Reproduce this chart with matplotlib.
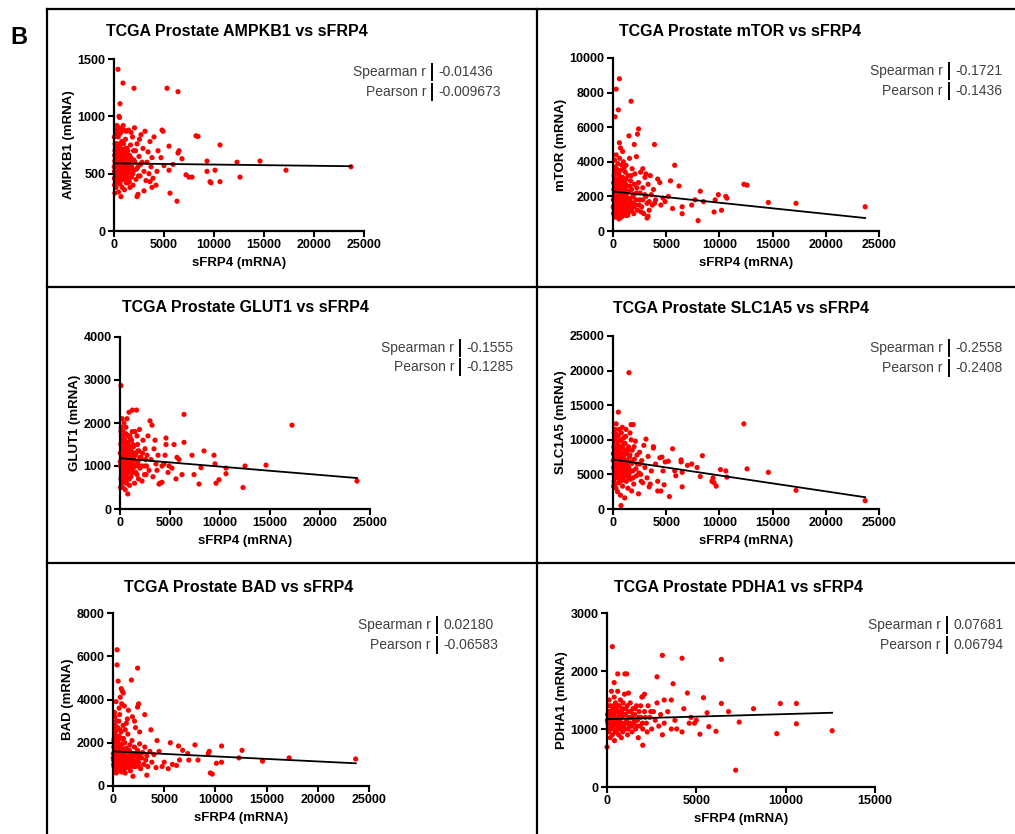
#!/usr/bin/env python3

import numpy as np
import matplotlib
matplotlib.use("Agg")
import matplotlib.pyplot as plt
from matplotlib.lines import Line2D

plt.rcParams["font.family"] = ["Liberation Sans", "DejaVu Sans"]

# =========================
# Data (sFRP4 mRNA vs gene mRNA)
# =========================
genes = ["AMPKB1", "mTOR", "GLUT1", "SLC1A5", "BAD", "PDHA1"]

spearman_r = ["-0.01436", "-0.1721", "-0.1555", "-0.2558", "0.02180", "0.07681"]
pearson_r = ["-0.009673", "-0.1436", "-0.1285", "-0.2408", "-0.06583", "0.06794"]

y_max = [1500, 10000, 4000, 25000, 8000, 3000]
y_step = [500, 2000, 1000, 5000, 2000, 1000]
x_max = [25000, 25000, 25000, 25000, 25000, 15000]
x_step = [5000, 5000, 5000, 5000, 5000, 5000]

# regression line value at the smallest and the largest sFRP4
fit_start = [590, 2280, 1180, 7150, 1600, 1170]
fit_end = [565, 750, 720, 1700, 1050, 1280]

ampkb1 = np.array([
    (50, 520), (80, 610), (100, 700), (120, 450), (150, 880), (180, 560), (200, 380), (220, 650),
    (250, 760), (280, 500), (300, 920), (320, 600), (350, 430), (380, 690), (400, 540), (420, 820),
    (450, 340), (480, 620), (500, 480), (520, 900), (550, 570), (580, 730), (600, 410), (620, 660),
    (650, 520), (680, 860), (700, 300), (720, 590), (750, 470), (780, 780), (800, 640), (820, 380),
    (850, 550), (880, 710), (900, 450), (920, 920), (950, 600), (980, 500), (1000, 680), (1050, 360),
    (1100, 560), (1150, 800), (1200, 470), (1250, 640), (1300, 720), (1350, 420), (1400, 580),
    (1450, 880), (1500, 510), (1550, 660), (1600, 380), (1650, 750), (1700, 550), (1750, 470),
    (1800, 620), (1850, 820), (1900, 400), (1950, 700), (2000, 530), (2050, 900), (2100, 600),
    (2200, 450), (2300, 760), (2400, 560), (2500, 650), (2600, 480), (2700, 840), (2800, 600),
    (2900, 720), (3000, 520), (3100, 870), (3200, 440), (3300, 600), (3400, 690), (3500, 500),
    (3600, 780), (3700, 560), (3800, 640), (3900, 460), (130, 580), (260, 420), (340, 760),
    (460, 700), (560, 640), (660, 440), (760, 560), (860, 620), (960, 760), (1060, 520), (1160, 680),
    (1260, 540), (1360, 640), (1460, 460), (30, 820), (60, 400), (90, 330), (110, 760), (40, 460),
    (70, 660), (20, 560), (160, 480), (190, 720), (230, 540), (270, 620), (310, 470), (360, 580),
    (390, 510), (430, 650), (470, 560), (510, 740), (530, 430), (570, 500), (610, 560), (640, 760),
    (690, 620), (710, 500), (770, 680), (810, 520), (870, 460), (890, 580), (940, 670), (1020, 610),
    (1080, 460), (1130, 580), (1180, 720), (1230, 420), (1280, 590), (1330, 500), (1380, 700),
    (1480, 600), (1530, 430), (1580, 540), (1680, 640), (1780, 560), (1880, 500), (1980, 620),
    (2150, 700), (2250, 540), (2450, 480), (2550, 800), (2650, 580), (170, 640), (210, 850),
    (330, 860), (590, 850), (790, 880), (1020, 880), (1220, 870), (1700, 860),
    (400, 1410), (900, 1290), (2000, 1245), (5300, 1245), (6400, 1215), (600, 1110),
    (500, 1000), (550, 990), (4900, 870), (4800, 880), (8200, 830), (8400, 825), (10600, 750),
    (5500, 740), (6500, 700), (6400, 680), (6800, 630), (9300, 610), (12300, 600), (14600, 610),
    (4000, 820), (4400, 700), (4700, 640), (5000, 570), (5500, 530), (7200, 490), (7500, 470),
    (7800, 470), (9300, 520), (9600, 430), (9700, 420), (10100, 530), (10600, 430), (12600, 470),
    (17200, 530), (23700, 560), (6300, 260), (5600, 330), (3000, 350), (2300, 300), (2400, 320),
    (3800, 380), (4200, 400), (5900, 580), (4300, 520), (3600, 430),
])

mtor = np.array([
    (50, 1000), (80, 2400), (100, 3200), (120, 1500), (150, 4100), (180, 2000), (200, 800),
    (220, 2800), (250, 3600), (280, 1200), (300, 4400), (320, 2200), (350, 1700), (380, 3000),
    (400, 900), (420, 2600), (450, 3900), (480, 1400), (500, 2100), (520, 3300), (550, 700),
    (580, 1900), (600, 2700), (620, 4200), (650, 1100), (680, 2400), (700, 3500), (720, 1600),
    (750, 2900), (780, 800), (800, 2000), (820, 3800), (850, 1300), (880, 2500), (900, 3100),
    (920, 1000), (950, 2200), (980, 4000), (1000, 1700), (1050, 2800), (1100, 1200), (1150, 3400),
    (1200, 2000), (1250, 900), (1300, 2600), (1350, 1500), (1400, 3200), (1450, 2300), (1500, 1100),
    (1550, 4200), (1600, 1800), (1650, 2900), (1700, 1300), (1750, 2400), (1800, 3600), (1850, 1600),
    (1900, 2100), (1950, 1000), (2000, 2700), (2050, 3300), (2100, 1500), (2200, 2200), (2300, 1200),
    (2400, 2800), (2500, 1800), (2600, 3400), (2700, 1400), (2800, 2500), (2900, 1000), (3000, 3100),
    (3100, 2000), (3200, 1600), (3300, 2700), (3400, 1200), (3500, 3200), (3600, 2100), (3700, 1500),
    (3800, 2400), (4000, 1800), (4200, 3000), (30, 1800), (60, 2800), (90, 1300), (140, 3700),
    (240, 2400), (340, 1000), (440, 2900), (540, 1800), (640, 3100), (740, 2200), (840, 1500),
    (940, 2600), (1040, 1900), (1140, 2400), (1240, 3000), (20, 1400), (160, 1100), (190, 2600),
    (230, 1800), (270, 2100), (310, 1300), (360, 2500), (390, 1900), (430, 1200), (470, 2300),
    (510, 1600), (530, 900), (570, 2500), (610, 1400), (640, 2000), (690, 1000), (710, 2600),
    (770, 1500), (810, 1200), (870, 2100), (890, 1700), (940, 900), (1020, 2300), (1080, 1500),
    (1130, 1000), (1180, 2700), (1230, 1700), (1280, 1300), (1330, 2200), (1380, 900), (1480, 1900),
    (1530, 1400), (1580, 2600), (1680, 1600), (1780, 1200), (1880, 2000), (1980, 1400), (2150, 1800),
    (2250, 2500), (2450, 1500), (2550, 2200), (2650, 1100), (170, 3000), (210, 3400), (330, 3600),
    (590, 3200), (790, 3000), (1020, 3600), (1220, 3800), (1700, 3200), (2800, 1800), (3000, 2100),
    (3400, 1700), (600, 8800), (300, 8200), (500, 7000),
    (1700, 7500), (200, 6600), (2400, 5900), (2300, 5600), (1500, 5500), (3900, 5000), (2000, 5000),
    (600, 5100), (700, 4800), (900, 4600), (5800, 3800), (2200, 4300), (5400, 2900), (6200, 2600),
    (8200, 2300), (9900, 2100), (10700, 1900), (10600, 2000), (12300, 2700), (12600, 2650),
    (14600, 1650), (17200, 1600), (23700, 1400), (6500, 1000), (6500, 1400), (8000, 600),
    (9500, 1100), (10200, 1200), (7400, 1500), (7700, 1800), (8500, 1700), (9600, 1800), (4700, 1900),
    (4500, 1500), (3900, 1600), (3200, 750), (3300, 850), (5600, 1300), (5200, 2000), (4400, 2800),
    (4900, 1700), (2800, 3600), (3100, 3300),
])

glut1 = np.array([
    (50, 1000), (80, 1500), (100, 700), (120, 1900), (150, 1200), (180, 600), (200, 1700), (220, 900),
    (250, 1400), (280, 500), (300, 1100), (320, 1800), (350, 800), (380, 1300), (400, 2000), (420, 650),
    (450, 1000), (480, 1600), (500, 1200), (520, 450), (550, 1450), (580, 850), (600, 1750), (620, 1050),
    (650, 600), (680, 1350), (700, 2100), (720, 900), (750, 1250), (780, 350), (800, 1550), (820, 1000),
    (850, 700), (880, 1400), (900, 2250), (920, 1150), (950, 550), (980, 1700), (1000, 950), (1050, 1300),
    (1100, 750), (1150, 1600), (1200, 1050), (1250, 2300), (1300, 850), (1350, 1450), (1400, 1150),
    (1450, 600), (1500, 1800), (1550, 1000), (1600, 1300), (1650, 2300), (1700, 800), (1750, 1500),
    (1800, 1100), (1850, 700), (1900, 1350), (1950, 1850), (2000, 950), (2100, 1200), (2200, 650),
    (2300, 1600), (2400, 1000), (2500, 1400), (2600, 800), (2700, 1250), (2800, 1700), (2900, 900),
    (3000, 2050), (3100, 1150), (3200, 1950), (3300, 750), (3400, 1400), (3600, 1050), (3800, 1250),
    (4000, 600), (4200, 1000), (30, 1300), (60, 500), (90, 1800), (140, 900), (240, 1150), (340, 1550),
    (440, 850), (540, 1050), (640, 1500), (740, 700), (840, 1200), (940, 1450), (1040, 1100), (1140, 900),
    (1240, 1250), (20, 1100), (160, 800), (190, 1350), (230, 1000), (270, 1250), (310, 700),
    (360, 1150), (390, 950), (430, 1400), (470, 1100), (510, 800), (530, 1300), (570, 1000),
    (610, 1250), (640, 750), (690, 1150), (710, 950), (770, 1450), (810, 850), (870, 1100),
    (890, 1300), (940, 700), (1020, 1200), (1080, 1000), (1130, 1350), (1180, 850), (1230, 1150),
    (1280, 1500), (1330, 950), (1380, 1300), (1480, 1000), (1530, 1250), (1580, 850), (1680, 1100),
    (1780, 1350), (1880, 1000), (1980, 1200), (2150, 1000), (2250, 1300), (2450, 800), (2550, 1150),
    (2650, 1000), (170, 1600), (210, 2100), (330, 1650), (590, 1900), (790, 1700), (1020, 1650),
    (1220, 1800), (1700, 1700), (100, 2870), (6400, 2200), (6400, 1550), (4600, 1650), (4600, 1500),
    (5400, 1500), (4500, 1250), (5700, 1200), (7200, 1250), (8400, 1350), (9400, 1250), (9500, 1050),
    (10600, 950), (10600, 820), (12500, 1000), (14600, 1020), (17200, 1950), (23700, 650), (8100, 960),
    (7400, 800), (5600, 700), (9600, 600), (9900, 680), (12300, 500), (7900, 580), (5200, 950),
    (4800, 850), (4400, 1050), (3900, 580), (4200, 620), (6200, 800), (4900, 1000), (5900, 1150),
    (3500, 1600), (3700, 900),
])

slc1a5 = np.array([
    (50, 6000), (80, 9000), (100, 4000), (120, 11000), (150, 7000), (180, 3500), (200, 10000),
    (220, 5500), (250, 8000), (280, 3000), (300, 12300), (320, 6500), (350, 4500), (380, 9500),
    (400, 7500), (420, 2500), (450, 5000), (480, 10500), (500, 6200), (520, 8500), (550, 3800),
    (580, 11500), (600, 7000), (620, 4800), (650, 9000), (680, 5800), (700, 2000), (720, 8000),
    (750, 6500), (780, 10000), (800, 4200), (820, 7200), (850, 5200), (880, 11800), (900, 3300),
    (920, 8800), (950, 6000), (980, 4600), (1000, 9500), (1050, 7000), (1100, 1600), (1150, 5500),
    (1200, 10500), (1250, 4000), (1300, 8000), (1350, 6300), (1400, 3000), (1450, 9000), (1500, 5000),
    (1550, 7500), (1600, 11000), (1650, 4300), (1700, 6800), (1750, 2600), (1800, 8500), (1850, 5500),
    (1900, 12200), (1950, 3600), (2000, 7200), (2100, 9800), (2200, 4800), (2300, 6500), (2400, 2200),
    (2500, 8200), (2600, 5000), (2700, 7000), (2800, 3800), (2900, 9200), (3000, 6000), (3100, 10100),
    (3200, 4500), (3300, 7600), (3400, 3200), (3600, 5500), (3800, 8800), (4000, 6500), (4200, 4000),
    (30, 8000), (60, 3300), (90, 5000), (140, 9800), (240, 6800), (340, 5800), (440, 8500), (540, 6000),
    (640, 4000), (740, 7500), (840, 9000), (940, 5000), (1040, 6000), (1140, 8500), (1240, 5800),
    (20, 7000), (160, 5000), (190, 8500), (230, 6200), (270, 7400), (310, 4600), (360, 8000),
    (390, 5600), (430, 7000), (470, 9000), (510, 4800), (530, 6800), (570, 5500), (610, 8200),
    (640, 6300), (690, 7000), (710, 4500), (770, 8800), (810, 5800), (870, 6600), (890, 8000),
    (940, 4200), (1020, 7500), (1080, 5800), (1130, 9500), (1180, 6500), (1230, 4800), (1280, 7000),
    (1330, 5500), (1380, 8500), (1480, 6000), (1530, 4500), (1580, 7800), (1680, 5500), (1780, 6600),
    (1880, 4500), (1980, 9000), (2150, 5800), (2250, 7800), (2450, 5200), (2550, 6500), (2650, 4000),
    (170, 10500), (210, 11500), (330, 10800), (590, 9800), (790, 11000), (1020, 10300), (1220, 11500),
    (1700, 10000), (1500, 19700), (500, 14000), (1700, 12200), (12300, 12300), (5600, 8700),
    (8400, 7700), (6400, 7100), (6400, 6800), (7400, 6500), (7000, 6300), (7900, 6000), (6500, 5300),
    (10100, 5700), (10600, 5500), (12600, 5800), (14600, 5300), (10700, 4600), (8200, 4700),
    (9400, 4500), (9500, 3800), (9700, 3300), (9300, 4000), (17200, 2700), (23700, 1200), (5300, 1800),
    (6500, 3200), (4500, 2600), (4200, 2600), (5900, 4800), (4800, 3500), (4900, 6800), (5200, 6900),
    (4700, 5500), (5800, 5500), (3800, 9000), (4400, 7400), (4600, 7500), (750, 500), (3500, 3600),
])

bad = np.array([
    (50, 1200), (80, 1800), (100, 900), (120, 2200), (150, 1400), (180, 700), (200, 1600), (220, 2500),
    (250, 1000), (280, 1300), (300, 2000), (320, 600), (350, 1500), (380, 1100), (400, 2300), (420, 800),
    (450, 1700), (480, 1250), (500, 2100), (520, 950), (550, 1400), (580, 3000), (600, 700), (620, 1900),
    (650, 1150), (680, 1550), (700, 2600), (720, 850), (750, 1350), (780, 1800), (800, 1050), (820, 2200),
    (850, 650), (880, 1450), (900, 1000), (920, 1950), (950, 1250), (980, 2800), (1000, 800),
    (1050, 1600), (1100, 1100), (1150, 2000), (1200, 600), (1250, 1400), (1300, 1750), (1350, 950),
    (1400, 1300), (1450, 2400), (1500, 1150), (1550, 850), (1600, 1650), (1650, 1900), (1700, 700),
    (1750, 1350), (1800, 1000), (1850, 2100), (1900, 1500), (1950, 450), (2000, 1200), (2100, 1800),
    (2200, 900), (2300, 1400), (2400, 1650), (2500, 1100), (2600, 1950), (2700, 800), (2800, 1300),
    (2900, 1550), (3000, 1000), (3100, 1800), (3200, 1200), (3300, 1400), (3400, 900), (3600, 1600),
    (3800, 1100), (4000, 1450), (4200, 850), (30, 1500), (60, 1000), (90, 2100), (140, 1200),
    (240, 1750), (340, 900), (440, 1400), (540, 1700), (640, 1000), (740, 1200), (840, 1650),
    (940, 1400), (1040, 1200), (1140, 1500), (1240, 1100), (20, 1300), (160, 1000), (190, 1700),
    (230, 1200), (270, 1500), (310, 900), (360, 1300), (390, 1800), (430, 1100), (470, 1500),
    (510, 1000), (530, 1700), (570, 1200), (610, 1450), (640, 800), (690, 1300), (710, 1650),
    (770, 1000), (810, 1400), (870, 1200), (890, 1700), (940, 900), (1020, 1500), (1080, 1300),
    (1130, 800), (1180, 1600), (1230, 1150), (1280, 1400), (1330, 1000), (1380, 1650), (1480, 1350),
    (1530, 1000), (1580, 1250), (1680, 1500), (1780, 1150), (1880, 1300), (1980, 900), (2150, 1500),
    (2250, 1100), (2450, 1300), (2550, 900), (2650, 1500), (170, 2400), (210, 2800), (330, 2600),
    (590, 2300), (790, 2500), (1020, 2200), (150, 3400), (350, 3000), (450, 2700), (650, 3300),
    (850, 3800), (1200, 2600), (1400, 3100), (400, 6300), (400, 5600), (2400, 5450),
    (500, 4850), (1800, 4900), (800, 4500), (900, 4400), (300, 3900), (1000, 4300), (700, 4100),
    (1100, 3700), (2500, 3800), (2400, 3650), (3100, 3300), (1500, 3500), (600, 3600), (200, 3200),
    (1900, 3200), (2100, 3000), (1300, 2900), (2200, 2700), (2600, 2500), (3700, 2600), (4300, 2100),
    (5600, 2000), (6400, 1850), (8000, 1900), (10600, 1850), (12600, 1650), (9400, 1600), (9300, 1500),
    (7300, 1500), (6800, 1650), (12300, 1300), (14600, 1150), (17200, 1300), (23700, 1250), (9500, 600),
    (9700, 550), (10100, 1050), (10600, 1100), (8300, 1200), (7400, 1200), (6500, 1200), (5400, 800),
    (5800, 1000), (4800, 900), (3300, 500), (5000, 1100), (4500, 1600), (6200, 950),
])

pdha1 = np.array([
    (50, 1100), (80, 1300), (100, 950), (120, 1500), (150, 1200), (180, 850), (200, 1400), (220, 1050),
    (250, 1650), (280, 1150), (300, 900), (320, 1350), (350, 1000), (380, 1250), (400, 1550), (420, 800),
    (450, 1100), (480, 1450), (500, 1200), (520, 950), (550, 1300), (580, 1050), (600, 1650), (620, 1150),
    (650, 900), (680, 1400), (700, 1250), (720, 1000), (750, 1500), (780, 1100), (800, 850), (820, 1300),
    (850, 1200), (880, 950), (900, 1450), (920, 1050), (950, 1250), (980, 1600), (1000, 1000),
    (1050, 1350), (1100, 1150), (1150, 900), (1200, 1300), (1250, 1050), (1300, 1450), (1350, 1200),
    (1400, 950), (1450, 1350), (1500, 1100), (1550, 1250), (1600, 1000), (1650, 1400), (1700, 1150),
    (1750, 850), (1800, 1300), (1850, 1050), (1900, 1200), (1950, 1550), (2000, 1000), (2100, 1300),
    (2200, 1100), (2300, 1400), (2400, 1200), (2500, 1000), (2600, 1300), (2700, 1150), (2800, 1450),
    (2900, 1050), (3000, 1250), (3200, 1100), (3400, 1300), (3600, 1000), (30, 1250), (60, 1000),
    (90, 1400), (140, 1100), (240, 1250), (340, 1150), (440, 1300), (540, 1100), (640, 1200),
    (20, 1150), (160, 1000), (190, 1300), (230, 1150), (270, 1250), (310, 1050), (360, 1400),
    (390, 1100), (430, 1200), (470, 950), (510, 1350), (530, 1100), (570, 1200), (610, 1000),
    (640, 1400), (690, 1150), (710, 1300), (770, 1050), (810, 1200), (870, 1350), (890, 1100),
    (940, 1000), (1020, 1250), (1080, 1100), (1130, 1400), (1180, 1000), (1230, 1200), (1280, 1100),
    (1330, 1300), (1380, 1050), (1480, 1250), (1530, 1150), (1580, 1350), (1680, 1050), (1780, 1200),
    (1880, 1400), (1980, 1100), (2150, 1200), (2250, 950), (2450, 1300),
    (300, 2420), (3100, 2270), (4200, 2220), (6400, 2200), (2800, 1900), (1000, 1950), (600, 1950),
    (1100, 1950), (400, 1800), (3700, 1780), (2100, 1600), (2000, 1560), (4500, 1620), (1200, 1620),
    (5400, 1540), (3600, 1500), (3200, 1500), (6400, 1440), (9700, 1440), (10600, 1440), (8200, 1350),
    (6800, 1300), (5600, 1280), (4700, 1200), (4300, 1350), (4900, 1100), (5000, 1150), (7400, 1120),
    (10600, 1090), (12600, 970), (9500, 920), (5200, 910), (6100, 960), (5700, 1040), (4600, 1100),
    (3900, 1000), (3100, 900), (2000, 720), (0, 690), (7200, 290), (4200, 950), (3800, 1150),
])

panel_data = [ampkb1, mtor, glut1, slc1a5, bad, pdha1]

# =========================
# Layout (pixel boxes of each plot area: left, top, right, bottom)
# =========================
W, H = 1015, 834
axes_px = [
    (114, 59, 364, 231),
    (613, 58, 879, 231),
    (120, 337, 370, 509),
    (613, 336, 879, 509),
    (113, 613, 369, 786),
    (607, 613, 875, 787),
]
# stats block: x of the separator bar, y of the two rows
stats_px = [
    (432, 72, 92),
    (949, 71, 91),
    (460, 348, 367),
    (949, 348, 368),
    (437, 625, 645),
    (947, 625, 645),
]
title_xy = [(237, 32), (740, 32), (245, 308), (741, 309), (239, 587), (739, 587)]


def fx(x):
    return x / W


def fy(y):
    return 1 - y / H


def main():
    fig = plt.figure(figsize=(W / 100, H / 100), dpi=100)

    # panel frame
    frame = dict(color="black", lw=1.6)
    fig.add_artist(Line2D([fx(47), fx(W)], [fy(9), fy(9)], **frame))
    fig.add_artist(Line2D([fx(47), fx(W)], [fy(287), fy(287)], **frame))
    fig.add_artist(Line2D([fx(47), fx(W)], [fy(563), fy(563)], **frame))
    fig.add_artist(Line2D([fx(47), fx(47)], [fy(9), fy(H)], **frame))
    fig.add_artist(Line2D([fx(537), fx(537)], [fy(9), fy(H)], **frame))

    fig.text(fx(19), fy(37), "B", fontsize=17, fontweight="bold",
             ha="center", va="center")

    for i, gene in enumerate(genes):
        l, t, r, b = axes_px[i]
        ax = fig.add_axes([fx(l), fy(b), (r - l) / W, (b - t) / H])
        pts = panel_data[i]
        x, y = pts[:, 0], pts[:, 1]

        ax.scatter(x, y, s=14, color="#ff0000", edgecolors="none",
                   clip_on=False, zorder=2)

        x0, x1 = x.min(), x.max()
        ax.plot([x0, x1], [fit_start[i], fit_end[i]], color="black",
                lw=1.3, zorder=3)

        ax.set_xlim(0, x_max[i])
        ax.set_ylim(0, y_max[i])
        ax.set_xticks(np.arange(0, x_max[i] + 1, x_step[i]))
        ax.set_yticks(np.arange(0, y_max[i] + 1, y_step[i]))

        for side in ("top", "right"):
            ax.spines[side].set_visible(False)
        for side in ("left", "bottom"):
            ax.spines[side].set_linewidth(1.6)
        ax.tick_params(direction="out", length=4, width=1.5, pad=2,
                       labelsize=9)
        for lab in ax.get_xticklabels() + ax.get_yticklabels():
            lab.set_fontweight("bold")

        ax.set_xlabel("sFRP4 (mRNA)", fontsize=9.5, fontweight="bold",
                      labelpad=4)
        ax.set_ylabel(f"{gene} (mRNA)", fontsize=9.5, fontweight="bold",
                      labelpad=2)

        tx, ty = title_xy[i]
        fig.text(fx(tx), fy(ty), f"TCGA Prostate {gene} vs sFRP4",
                 fontsize=11.5, fontweight="bold", ha="center", va="center")

        # Spearman / Pearson block
        bx, y1, y2 = stats_px[i]
        for row_y, name, val in ((y1, "Spearman r", spearman_r[i]),
                                 (y2, "Pearson r", pearson_r[i])):
            fig.text(fx(bx - 6), fy(row_y), name, fontsize=10,
                     color="#404040", ha="right", va="center")
            fig.text(fx(bx + 6), fy(row_y), val, fontsize=10,
                     color="#404040", ha="left", va="center")
            fig.add_artist(Line2D([fx(bx), fx(bx)],
                                  [fy(row_y - 8), fy(row_y + 8)],
                                  color="black", lw=1.4))

    fig.savefig("out.png", dpi=100)
    plt.close(fig)


if __name__ == "__main__":
    main()
